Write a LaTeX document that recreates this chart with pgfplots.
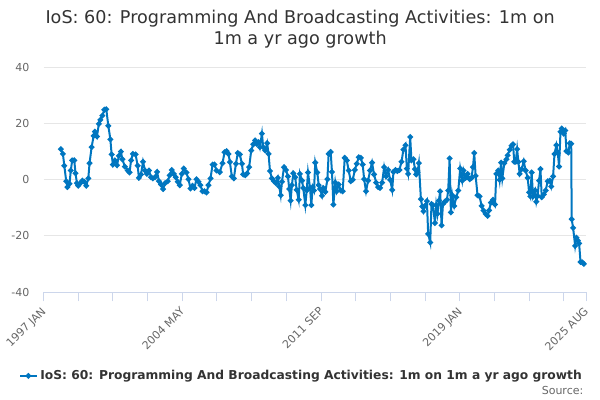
\documentclass[border=0pt]{standalone}
\usepackage{fontspec}
\setmainfont{DejaVu Sans}
\usepackage{pgfplots}
\pgfplotsset{compat=1.18}
\definecolor{series}{RGB}{0,118,192}
\definecolor{txt}{HTML}{333333}
\definecolor{lbl}{HTML}{666666}
\definecolor{gridc}{HTML}{E6E6E6}
\definecolor{axisline}{HTML}{CCD6EB}
\begin{document}
\begin{tikzpicture}
\path[use as bounding box] (0,0) rectangle (450pt,-300pt);
\begin{axis}[
  at={(32.625pt,-219pt)}, anchor=south west,
  scale only axis, width=406.9pt, height=168.75pt,
  xmin=0, xmax=344, ymin=-40, ymax=40,
  ytick={-40,-20,0,20,40},
  xtick={0,88,176,264,344},
  xticklabels={1997 JAN,2004 MAY,2011 SEP,2019 JAN,2025 AUG},
  minor xtick={22,44,66,110,132,154,198,220,242,286,308,330},
  ymajorgrids, grid style={gridc, line width=0.75pt},
  axis x line*=bottom, axis y line*=left,
  y axis line style={draw=none},
  x axis line style={axisline, line width=0.75pt, -},
  xtick style={axisline, line width=0.75pt},
  ytick style={draw=none},
  tick align=outside,
  major tick length=7pt, minor tick length=7pt,
  xticklabel style={rotate=45, anchor=north east, xshift=-3pt, font=\fontsize{8.25}{10}\selectfont, text=lbl, inner sep=1pt},
  yticklabel style={font=\fontsize{8.25}{10}\selectfont, text=lbl},
  /pgf/number format/assume math mode=true,
  title={IoS: 60: Programming And Broadcasting Activities: 1m on\\1m a yr ago growth},
  title style={at={(axis description cs:0.473,1.131)}, anchor=center, align=center, font=\fontsize{13.2}{15.75}\selectfont, text=txt},
  legend style={at={(axis description cs:0.476,-0.373)}, anchor=center, draw=none, font=\fontsize{9.2}{11}\selectfont\bfseries, text=txt, inner sep=0pt},
  legend image code/.code={\draw[mark repeat=2,mark phase=2,#1] plot coordinates {(0cm,0cm) (0.22cm,0cm) (0.44cm,0cm)};},
]
\addplot[series, line width=1.5pt, mark=*, mark size=1.3pt, mark options={series}] coordinates {
(11.0,10.8)(12.3,9.1)(13.2,4.9)(14.4,-0.6)(15.2,-2.7)(16.5,-1.5)(17.3,3.2)(18.2,6.8)(19.5,6.8)(20.3,2.2)(21.2,-1.3)(22.0,-2.2)(23.3,-1.3)(24.6,-0.4)(25.9,-0.8)(27.1,-2.2)(28.4,0.4)(29.2,5.8)(30.5,11.5)(31.8,15.5)(32.6,17)(33.9,15.3)(35.1,19.8)(36.0,21.2)(37.3,22.7)(38.6,24.8)(39.8,25)(41.1,19.1)(42.4,14.3)(43.2,8.9)(44.0,5.3)(45.3,6.8)(46.6,5.1)(47.8,8.4)(49.1,9.9)(50.0,7.2)(51.6,4.6)(53.4,3.2)(54.6,2.5)(55.5,6.8)(56.7,9.1)(58.4,8.9)(59.7,4.9)(60.5,0.6)(61.8,1.8)(63.1,6.3)(64.4,3.2)(65.6,2)(66.9,3.2)(68.2,0.8)(69.4,0.4)(70.7,0.8)(72.0,2.7)(73.2,-0.6)(74.5,-1.8)(75.8,-3.4)(77.1,-1.3)(78.8,-0.6)(80.0,1.5)(81.3,3.4)(82.6,2)(83.9,0.8)(85.1,-0.8)(86.4,-2)(87.7,2)(88.9,3.9)(90.6,2.5)(91.9,0.1)(93.2,-3.2)(94.5,-2.2)(95.7,-3)(97.0,0.1)(98.3,-0.8)(99.5,-2)(100.8,-4.2)(102.1,-4.2)(103.4,-4.6)(104.6,-2)(105.9,0.4)(107.2,5.3)(108.4,5.3)(109.7,3.2)
(111.8,2.6)(113.5,5.8)(114.8,9.7)(116.1,10.1)(117.3,9.1)(118.2,6.2)(119.4,1.1)(120.7,0.4)(122.0,5.6)(123.2,9.4)(124.5,8.9)(125.8,5.6)(126.6,1.8)(127.9,1.5)(129.1,2.2)(130.4,4.4)(131.7,10.3)(133.0,12.5)(134.2,13.9)(135.1,12.7)(136.4,13.3)(137.2,11.5)(138.5,16.3)(139.3,11.5)(140.6,10.3)(141.8,12.9)(142.7,9.1)(143.6,3)(144.8,0.4)(146.1,-0.6)(147.4,-1.3)(148.6,0.6)(149.5,-2.5)(150.4,-5.6)(151.2,-0.8)(152.5,4.4)(153.7,3.4)(155.0,1.1)(155.8,-3.4)(156.7,-7.5)(157.5,-2)(158.4,2.2)(159.6,0.8)(160.5,-3.7)(161.8,-7.2)(162.6,2)(163.9,-0.4)(164.7,-3)(166.0,-9.1)(166.9,-3.9)(167.7,2.5)(169.0,-3)(169.8,-9.1)(170.7,-2.7)(171.5,-3.9)(172.3,6)(173.6,2.5)(174.5,-2)(175.3,-3.4)(176.6,-5.8)(177.4,-3)(178.7,-4.4)(180.0,0.1)(180.8,9.1)(182.1,9.8)(182.9,2.7)(183.8,-8.9)(185.0,-1.1)(185.9,-4.2)(187.2,-1.8)(188.5,-3.9)(189.7,-4.2)(191.0,7.7)(192.3,6.8)(193.5,3.2)(194.8,-0.6)(196.1,-0.1)(197.4,3.4)(198.6,5.6)(199.9,7.9)(201.2,7.7)(202.4,5.3)(203.3,0.1)(204.5,-4.2)(205.8,-0.4)(207.1,3.2)(208.3,6)(209.6,1.8)(210.9,-1.1)(212.2,-2.7)(213.4,-3)(214.7,-1.1)(216.0,4.4)(217.2,1.1)(218.5,3.4)(219.8,-0.1)(221.1,-3.7)(221.9,2.7)(223.2,3.4)(224.4,3)(225.7,3.4)
(227.0,6.3)(228.2,10.6)(229.5,12.2)(230.4,3.9)(231.2,2)(232.5,15.1)(233.3,6.8)(234.6,7.2)(235.5,3.7)(236.3,1.8)(237.1,2.5)(238.0,5.8)(239.3,-7)(240.1,-9.6)(240.9,-11.3)(241.8,-9.4)(243.1,-7.7)(243.9,-19.3)(245.2,-22.4)(246.0,-8.7)(246.9,-9.1)(248.2,-15.5)(249.0,-9.1)(249.8,-12.2)(250.7,-7.5)(251.5,-4.2)(252.4,-16.3)(253.3,-8.7)(254.5,-7.9)(255.8,-7.2)(256.6,-3.9)(257.5,7.5)(258.3,-11.7)(259.2,-5.6)(260.4,-9.4)(261.7,-6.3)(263.0,-3.9)(264.2,3.9)(265.5,-0.4)(266.3,3.2)(267.6,0.6)(268.9,2)(270.2,0.1)(271.4,0.6)(272.3,4.4)(273.1,9.4)(274.0,1.3)(275.2,-5.6)(276.5,-6)(277.8,-9.4)(279.0,-11)(280.3,-12.2)(281.6,-12.9)(282.5,-11)(283.7,-8.2)(285.0,-7.2)(286.3,-8.9)(287.1,2)(288.4,3.2)(289.2,-0.1)(290.1,6)(290.9,0.4)(292.2,5.8)(293.5,7.2)(294.3,8.6)(295.6,10.6)(296.8,12)(297.7,12.5)(298.5,6.3)(299.4,6.3)(300.3,10.8)(301.1,6.3)(301.9,2)(303.2,3.7)(304.5,6.5)(305.7,3.2)(307.0,0.6)(307.9,-4.6)(308.7,-6)(309.5,2.5)(310.4,-6)(311.7,-3.9)(312.5,-7.9)(313.3,-5.8)(314.2,-0.4)(315.1,3.7)(315.9,-6.3)(317.2,-5.3)(318.4,-3.9)(319.7,-0.6)(321.0,-0.4)(321.9,-2.5)(323.1,1.1)(324.0,9.1)(325.2,12.2)(326.1,9.4)(326.9,4.6)(327.8,17)(328.6,18.1)(329.9,16.3)(330.8,17.4)(331.6,10.1)(332.8,9.6)(333.7,12.9)(334.6,12.7)(334.9,-14.1)(335.8,-17.2)(337.1,-23.6)(337.9,-20.7)(338.8,-21.7)(339.6,-22.7)(340.5,-29.3)(341.7,-29.5)(342.6,-30)
};
\addlegendentry{IoS: 60: Programming And Broadcasting Activities: 1m on 1m a yr ago growth}
\end{axis}
\node[anchor=east, text=lbl, font=\fontsize{8.25}{10}\selectfont] at (441pt,-292.5pt) {Source:};
\end{tikzpicture}
\end{document}
